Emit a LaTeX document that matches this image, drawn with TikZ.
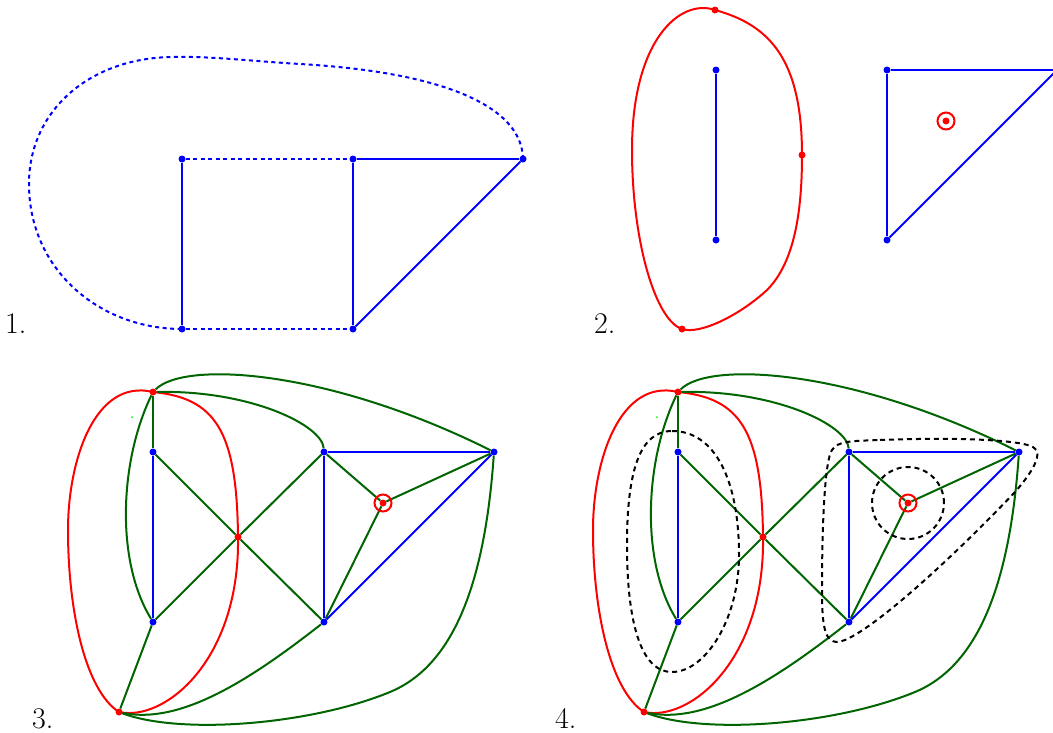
\documentclass[tikz,border=0pt]{standalone}
\usetikzlibrary{backgrounds}
\definecolor{dgreen}{RGB}{0,100,0}
\begin{document}
\begin{tikzpicture}[x=1pt,y=-1pt,
  bl/.style={blue,line width=2pt},
  gr/.style={dgreen,line width=2pt},
  rd/.style={red,line width=2pt},
  bdash/.style={blue,line width=2pt,dash pattern=on 4pt off 3.5pt},
  kdash/.style={black,line width=2pt,dash pattern=on 5pt off 4pt},
  vb/.style={circle,fill=blue,inner sep=0pt,minimum size=7pt},
  vr/.style={circle,fill=red,inner sep=0pt,minimum size=7pt},
  ring/.style={circle,draw=red,line width=2pt,inner sep=0pt,minimum size=17pt},
  lbl/.style={anchor=base west,inner sep=0pt,font=\fontsize{30}{34}\selectfont}]
\useasboundingbox (0,0) rectangle (1053,732);

% ---------- panel 1 ----------
\node[vb] (a1) at (182,159) {};
\node[vb] (a2) at (353,159) {};
\node[vb] (a3) at (523,159) {};
\node[vb] (a4) at (182,329) {};
\node[vb] (a5) at (353,329) {};
\begin{scope}[on background layer]
  \draw[bl] (a1) -- (a4);
  \draw[bl] (a2) -- (a5);
  \draw[bl] (a2) -- (a3);
  \draw[bl] (a5) -- (a3);
  \draw[bdash] (a1) -- (a2);
  \draw[bdash] (a4) -- (a5);
  \draw[bdash] (a3.center) .. controls (522,105) and (440,72) .. (300,64)
     .. controls (250,61) and (210,56) .. (172,57)
     .. controls (90,58) and (30,110) .. (29,182)
     .. controls (28,270) and (100,329) .. (a4.center);
\end{scope}
\node[lbl] (l1) at (5,333) {1.};

% ---------- panel 2 ----------
\node[vb] (b1) at (716,70) {};
\node[vb] (b2) at (716,240) {};
\node[vb] (b3) at (887,70) {};
\node[vb] (b4) at (887,240) {};
\coordinate (b5) at (1057,70);
\node[vr] (b6) at (715,10) {};
\node[vr] (b7) at (802,155) {};
\node[vr] (b8) at (682,329) {};
\node[vr] (b9) at (946,121) {};
\node[ring] (b9r) at (b9) {};
\begin{scope}[on background layer]
  \draw[bl] (b1) -- (b2);
  \draw[bl] (b3) -- (b5);
  \draw[bl] (b4) -- (b5);
  \draw[bl] (b3) -- (b4);
  \draw[rd] (b6.center) .. controls (680,-2) and (632,40) .. (632,150)
     .. controls (632,240) and (655,320) .. (b8.center)
     .. controls (700,335) and (740,315) .. (767,290)
     .. controls (795,262) and (802,210) .. (b7.center)
     .. controls (802,60) and (770,25) .. (b6.center);
\end{scope}
\node[lbl] (l2) at (594,333) {2.};

% ---------- panels 3 and 4 ----------
\foreach \s/\p in {0/c,525/d}{
\begin{scope}[xshift=\s pt]
  \node[vr] (\p T) at (153,392) {};
  \node[vb] (\p P1) at (153,452) {};
  \node[vb] (\p P2) at (153,622) {};
  \node[vr] (\p X) at (238,537) {};
  \node[vb] (\p Q1) at (324,452) {};
  \node[vb] (\p Q2) at (324,622) {};
  \node[vb] (\p R) at (494,452) {};
  \node[vr] (\p O) at (383,503) {};
  \node[ring] (\p Or) at (383,503) {};
  \node[vr] (\p B) at (119,712) {};
  \fill[green] (132,417) circle (1pt);
  \begin{scope}[on background layer]
    % red dual curve
    \draw[rd] (\p T.center) .. controls (95,378) and (68,460) .. (68,530)
       .. controls (68,610) and (85,690) .. (\p B.center)
       .. controls (165,722) and (240,660) .. (\p X.center)
       .. controls (237,430) and (215,398) .. (\p T.center);
    % green edges
    \draw[gr] (\p T) -- (\p P1);
    \draw[gr] (\p P1) -- (\p X);
    \draw[gr] (\p X) -- (\p Q2);
    \draw[gr] (\p P2) -- (\p X);
    \draw[gr] (\p X) -- (\p Q1);
    \draw[gr] (\p P2) -- (\p B);
    \draw[gr] (\p Q1) -- (\p O);
    \draw[gr] (\p O) -- (\p R);
    \draw[gr] (\p O) -- (\p Q2);
    \draw[gr] (\p T) .. controls (120,460) and (115,560) .. (\p P2);
    \draw[gr] (\p T) .. controls (250,390) and (322,425) .. (\p Q1);
    \draw[gr] (\p T) .. controls (185,360) and (330,370) .. (\p R);
    \draw[gr] (\p Q2) .. controls (250,680) and (180,725) .. (\p B);
    \draw[gr] (\p R) .. controls (485,580) and (455,665) .. (390,692)
       .. controls (310,725) and (180,735) .. (\p B);
    % blue edges
    \draw[bl] (\p P1) -- (\p P2);
    \draw[bl] (\p Q1) -- (\p R);
    \draw[bl] (\p Q1) -- (\p Q2);
    \draw[bl] (\p Q2) -- (\p R);
  \end{scope}
\end{scope}
}
\node[lbl] (l3) at (32,728) {3.};
\node[lbl] (l4) at (555,728) {4.};

% dashed regions in panel 4
\draw[kdash] (672,431) .. controls (715,431) and (739,480) .. (739,555)
   .. controls (739,620) and (705,672) .. (672,672)
   .. controls (640,672) and (627,620) .. (627,545)
   .. controls (627,470) and (640,431) .. (672,431) -- cycle;
\draw[kdash] (dO.center) circle (36pt);
\draw[kdash] (880,440) .. controls (960,437) and (1020,440) .. (1033,447)
   .. controls (1045,453) and (1030,475) .. (1015,492)
   .. controls (960,550) and (880,625) .. (845,640)
   .. controls (825,648) and (822,630) .. (822,590)
   .. controls (822,520) and (825,460) .. (832,450)
   .. controls (838,441) and (850,441) .. (880,440) -- cycle;
\end{tikzpicture}
\end{document}
